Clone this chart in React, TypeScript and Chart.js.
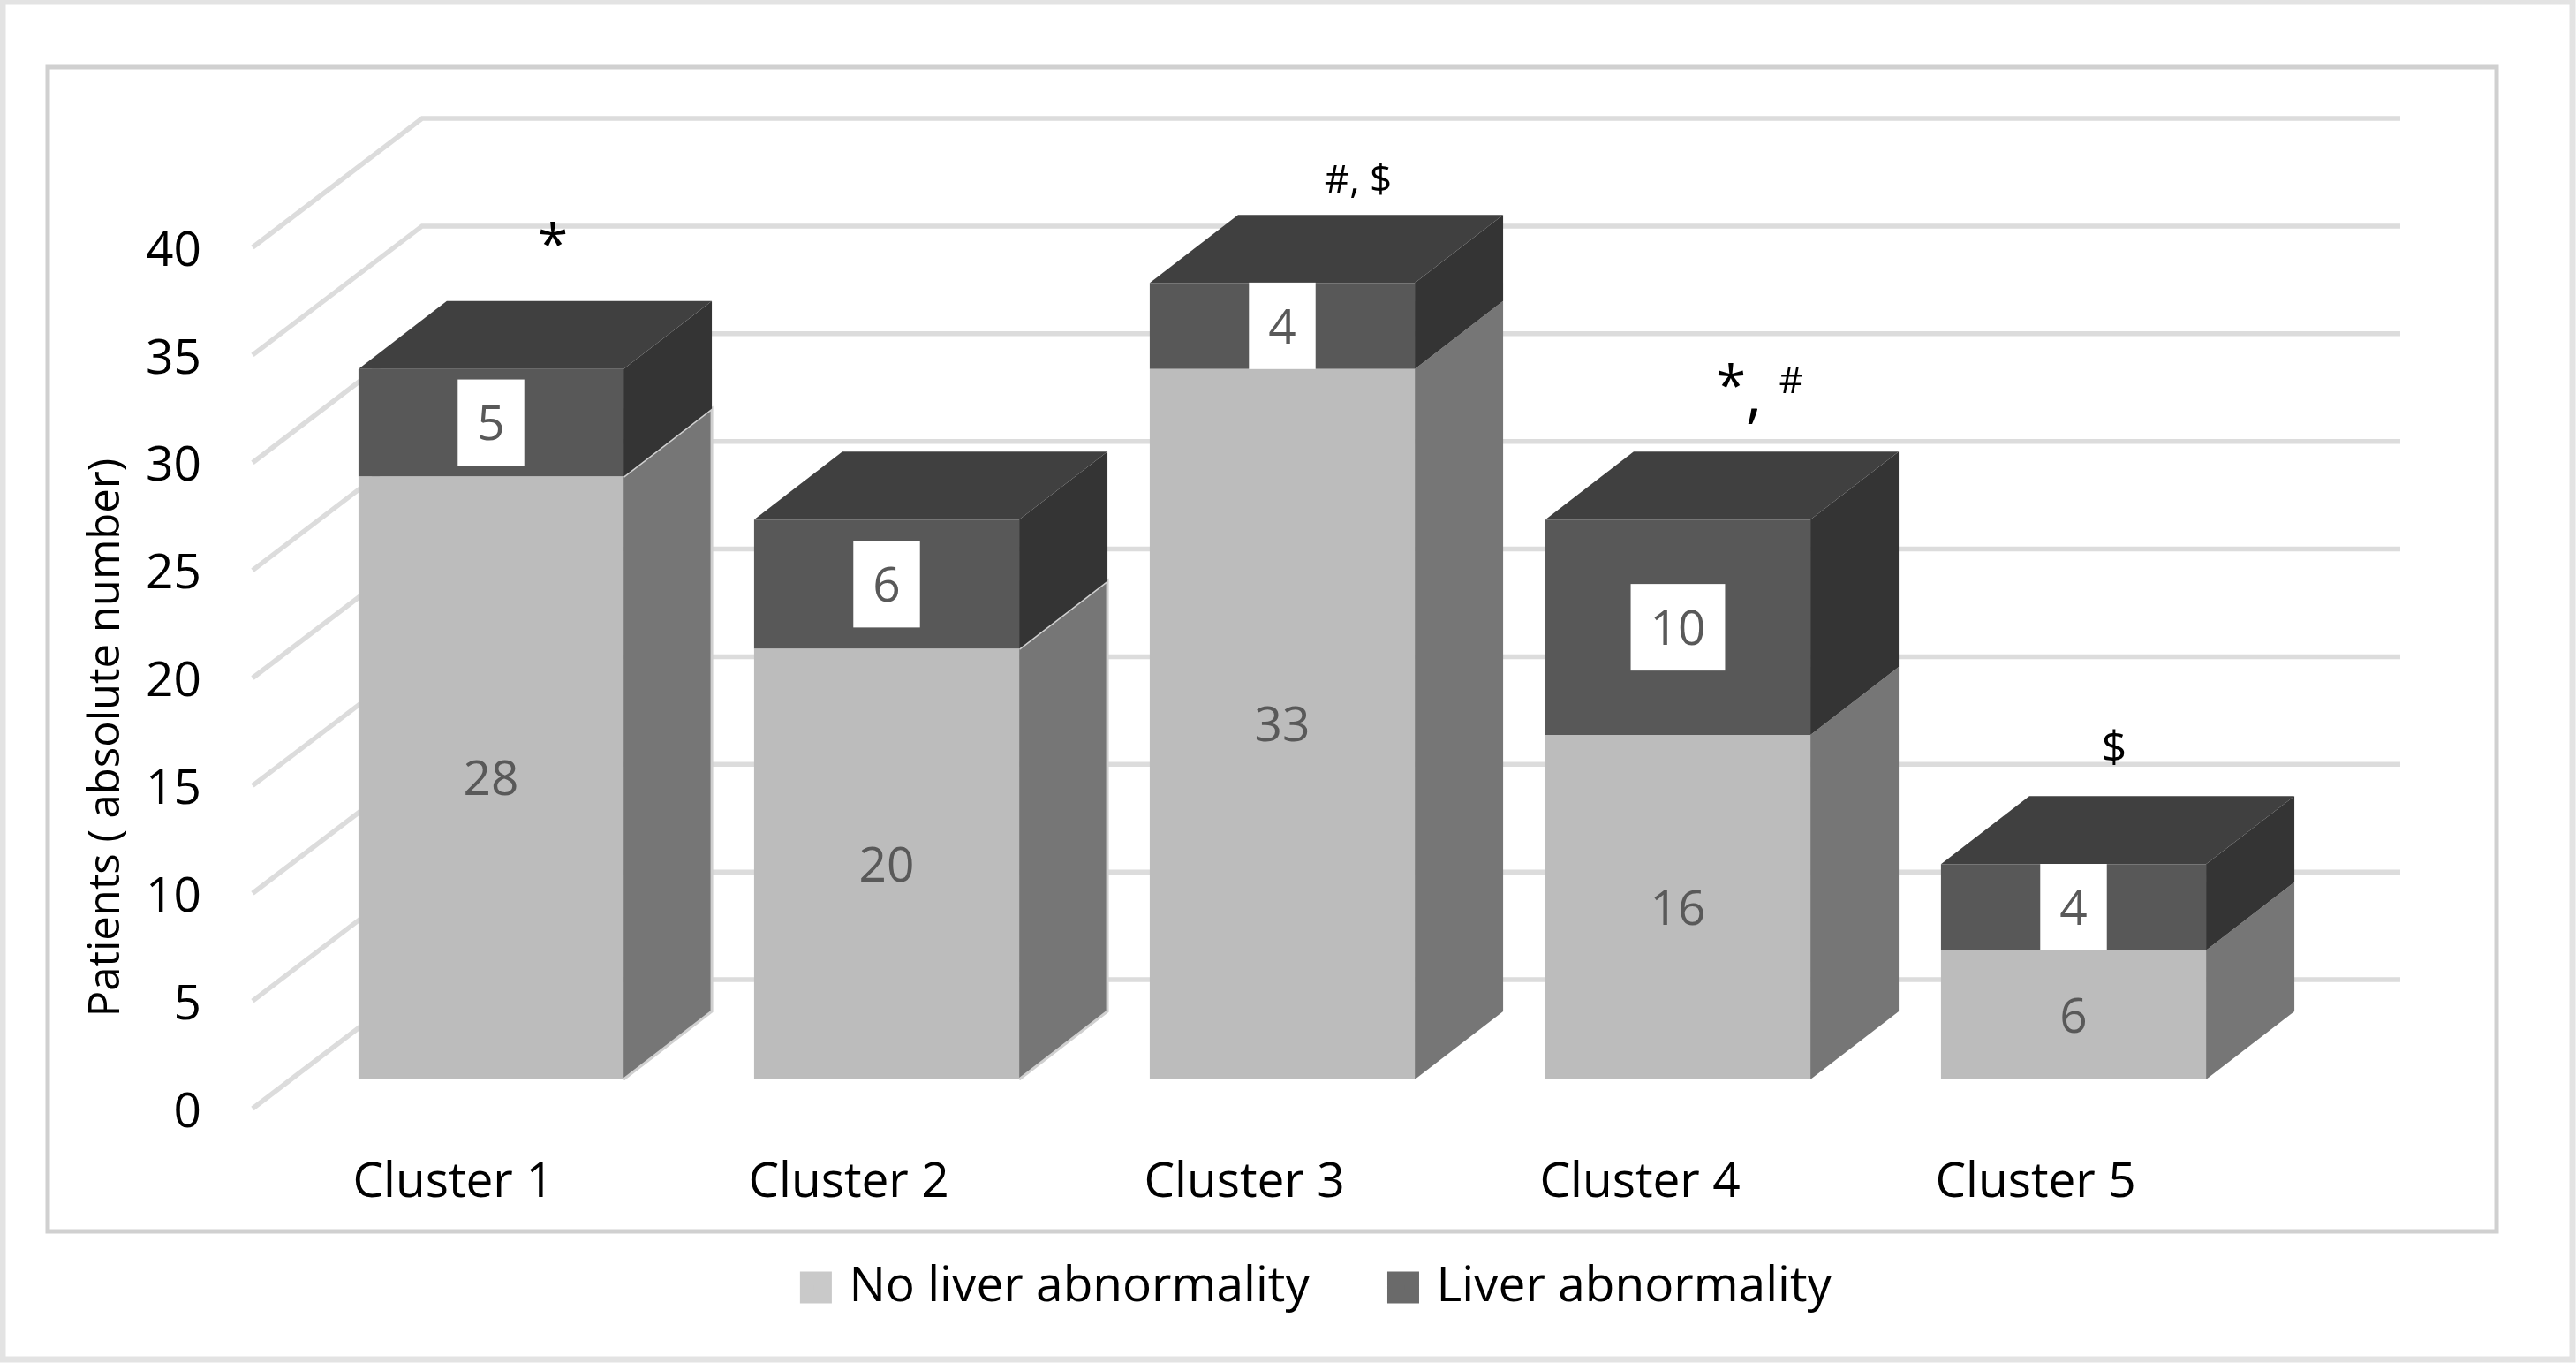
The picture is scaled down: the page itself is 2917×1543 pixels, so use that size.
import React, { useEffect, useRef } from "react";
import { Chart, registerables } from "chart.js";

Chart.register(...registerables);

const categories = ["Cluster 1", "Cluster 2", "Cluster 3", "Cluster 4", "Cluster 5"];
const noLiverAbnormality = [28, 20, 33, 16, 6];
const liverAbnormality = [5, 6, 4, 10, 4];
const seriesNames = ["No liver abnormality", "Liver abnormality"];
const yTitle = "Patients ( absolute number)";
const yTicks = { min: 0, max: 40, stepSize: 5 };

const W = 2917;
const H = 1543;
const FONT = '"Open Sans"';

// geometry of the 3D look, in pixels
const BAR_DEPTH = { dx: 100, dy: 77 };
const WALL_FRONT = { dx: -46, dy: 33 };
const WALL_BACK = { dx: 146, dy: -113 };

const colors = {
  front: ["#bcbcbc", "#585858"],
  side: ["#767676", "#343434"],
  top: "#404040",
  swatch: ["#c9c9c9", "#6a6a6a"],
  wall: "#dcdcdc",
  label: "#595959",
  outer: "#e3e3e3",
  frame: "#d0d0d0",
};
const outlinedBars = [true, true, false, false, false];

type Run = { text: string; size: number; dx: number; dy: number };
const annotations: Run[][] = [
  [{ text: "*", size: 62, dx: 70, dy: -137 }],
  [],
  [{ text: "#, $", size: 44, dx: 86, dy: -115 }],
  [
    { text: "*", size: 62, dx: 60, dy: -148 },
    { text: ",", size: 72, dx: 86, dy: -138 },
    { text: "#", size: 42, dx: 128, dy: -155 },
  ],
  [{ text: "$", size: 50, dx: 46, dy: -130 }],
];

const poly = (ctx: CanvasRenderingContext2D, pts: number[][], fill: string) => {
  ctx.beginPath();
  pts.forEach(([x, y], i) => (i ? ctx.lineTo(x, y) : ctx.moveTo(x, y)));
  ctx.closePath();
  ctx.fillStyle = fill;
  ctx.fill();
};

const scenePlugin = {
  id: "scene",
  afterLayout(chart: any) {
    const lg = chart.legend;
    if (lg) {
      lg.left = 1494 - 1200;
      lg.right = 1494 + 1200;
      lg.top = 1334;
    }
  },
  beforeDraw(chart: any) {
    const ctx = chart.ctx;
    ctx.save();
    ctx.fillStyle = "#ffffff";
    ctx.fillRect(0, 0, W, H);
    ctx.strokeStyle = colors.outer;
    ctx.lineWidth = 7;
    ctx.strokeRect(3, 2, W - 7, H - 6);
    ctx.strokeStyle = colors.frame;
    ctx.lineWidth = 5;
    ctx.strokeRect(54, 76, 2773, 1318);
    ctx.restore();
  },
  beforeDatasetsDraw(chart: any) {
    const ctx = chart.ctx;
    const { x, y } = chart.scales;
    ctx.save();
    // wall and floor lines
    ctx.strokeStyle = colors.wall;
    ctx.lineWidth = 5.5;
    y.ticks.forEach((t: any) => {
      const py = y.getPixelForValue(t.value);
      ctx.beginPath();
      ctx.moveTo(x.left + WALL_FRONT.dx, py + WALL_FRONT.dy);
      ctx.lineTo(x.left + WALL_BACK.dx, py + WALL_BACK.dy);
      ctx.lineTo(x.right + WALL_BACK.dx, py + WALL_BACK.dy);
      ctx.stroke();
    });
    // bar sides and lids
    const { dx, dy } = BAR_DEPTH;
    categories.forEach((_, j) => {
      [0, 1].forEach((d) => {
        const b = chart.getDatasetMeta(d).data[j];
        const r = b.x + b.width / 2;
        const l = b.x - b.width / 2;
        poly(ctx, [[r, b.y], [r + dx, b.y - dy], [r + dx, b.base - dy], [r, b.base]], colors.side[d]);
        if (d === 0 && outlinedBars[j]) {
          ctx.strokeStyle = colors.frame;
          ctx.lineWidth = 3;
          ctx.beginPath();
          ctx.moveTo(r, b.y);
          ctx.lineTo(r + dx, b.y - dy);
          ctx.lineTo(r + dx, b.base - dy);
          ctx.lineTo(r, b.base);
          ctx.stroke();
        }
        if (d === 1) {
          poly(ctx, [[l, b.y], [l + dx, b.y - dy], [r + dx, b.y - dy], [r, b.y]], colors.top);
        }
      });
    });
    ctx.restore();
  },
  afterDatasetsDraw(chart: any) {
    const ctx = chart.ctx;
    ctx.save();
    ctx.textAlign = "center";
    ctx.textBaseline = "middle";
    // value labels
    ctx.font = `55px ${FONT}`;
    [noLiverAbnormality, liverAbnormality].forEach((values, d) => {
      values.forEach((v, j) => {
        const b = chart.getDatasetMeta(d).data[j];
        const cy = (b.y + b.base) / 2;
        const text = String(v);
        if (d === 1) {
          const w = ctx.measureText(text).width + 44;
          ctx.fillStyle = "#ffffff";
          ctx.fillRect(b.x - w / 2, cy - 49, w, 98);
        }
        ctx.fillStyle = colors.label;
        ctx.fillText(text, b.x, cy + 4);
      });
    });
    // significance marks, placed above each stack
    ctx.fillStyle = "#000000";
    annotations.forEach((runs, j) => {
      const b = chart.getDatasetMeta(1).data[j];
      runs.forEach((r) => {
        ctx.font = `${r.size}px ${FONT}`;
        ctx.fillText(r.text, b.x + r.dx, b.y + r.dy);
      });
    });
    // y axis title
    ctx.translate(121, 835);
    ctx.rotate(-Math.PI / 2);
    ctx.font = `49px ${FONT}`;
    ctx.fillText(yTitle, 0, 0);
    ctx.restore();
  },
};

export default function App() {
  const ref = useRef<HTMLCanvasElement>(null);
  useEffect(() => {
    const chart = new Chart(ref.current as HTMLCanvasElement, {
      type: "bar",
      data: {
        labels: categories,
        datasets: [
          { label: seriesNames[0], data: noLiverAbnormality, backgroundColor: colors.front[0], borderWidth: 0 },
          { label: seriesNames[1], data: liverAbnormality, backgroundColor: colors.front[1], borderWidth: 0 },
        ],
      },
      options: {
        animation: false,
        responsive: false,
        devicePixelRatio: 1,
        events: [],
        barPercentage: 0.67,
        categoryPercentage: 1,
        layout: { autoPadding: false, padding: { top: 247, left: 0, right: 345, bottom: 0 } },
        scales: {
          x: {
            stacked: true,
            grid: { display: false, drawTicks: false },
            border: { display: false },
            ticks: {
              color: "#000000",
              font: { family: "Open Sans", size: 55 },
              labelOffset: -43,
              padding: 84,
              maxRotation: 0,
              autoSkip: false,
            },
            afterFit(scale: any) {
              scale.height = H - 1222 - (scale.chart.legend?.height || 0);
            },
          },
          y: {
            stacked: true,
            min: yTicks.min,
            max: yTicks.max,
            grid: { display: false, drawTicks: false },
            border: { display: false },
            ticks: {
              stepSize: yTicks.stepSize,
              color: "#000000",
              font: { family: "Open Sans", size: 55 },
              labelOffset: 38,
              padding: 104,
            },
            afterFit(scale: any) {
              scale.width = 332;
            },
          },
        },
        plugins: {
          tooltip: { enabled: false },
          legend: {
            display: true,
            position: "bottom",
            labels: {
              color: "#000000",
              font: { family: "Open Sans", size: 55 },
              boxWidth: 20,
              boxHeight: 20,
              padding: 96,
              generateLabels: () =>
                seriesNames.map((name, i) => ({
                  text: name,
                  fillStyle: colors.swatch[i],
                  strokeStyle: colors.swatch[i],
                  lineWidth: 16,
                  hidden: false,
                  datasetIndex: i,
                })),
            },
          },
        },
      } as any,
      plugins: [scenePlugin],
    });
    return () => chart.destroy();
  }, []);
  return (
    <canvas
      ref={ref}
      width={W}
      height={H}
      style={{ position: "absolute", left: 0, top: 0, width: W, height: H, display: "block" }}
    />
  );
}
